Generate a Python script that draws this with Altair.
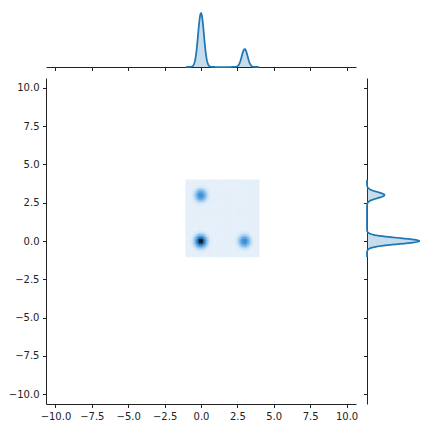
import numpy as np
import pandas as pd
import altair as alt

# ---- data ----
px = [0, 0, 0, 3]          # x of the observations
py = [0, 0, 3, 0]          # y of the observations
BW = 0.2                   # kernel bandwidth, marginals
BW2 = 0.23                 # kernel bandwidth, joint density
LO, HI = -1.05, 4.0        # KDE support
NCELL = 50
tick_vals = [-10, -7.5, -5, -2.5, 0, 2.5, 5, 7.5, 10]
DOM = [-10.65, 10.65]

points = pd.DataFrame({"x": px, "y": py})

# 2-D KDE on a grid, derived from the observations
edges = np.linspace(LO, HI, NCELL + 1)
centers = (edges[:-1] + edges[1:]) / 2
gx, gy = np.meshgrid(centers, centers)
dens = sum(np.exp(-((gx - a) ** 2 + (gy - b) ** 2) / (2 * BW2 ** 2)) for a, b in zip(px, py))
level = dens / dens.max()
ix, iy = np.meshgrid(range(NCELL), range(NCELL))
grid = pd.DataFrame({
    "x0": edges[ix.ravel()], "x1": edges[ix.ravel() + 1],
    "y0": edges[iy.ravel()], "y1": edges[iy.ravel() + 1],
    "level": level.ravel(),
})

BLUE = "#1f77b4"
AX = "#222222"
xs = alt.Scale(domain=DOM, nice=False, zero=False)
ys = alt.Scale(domain=DOM, nice=False, zero=False)
cscale = alt.Scale(
    domain=[0, 0.05, 0.15, 0.3, 0.5, 0.7, 0.85, 1.0],
    range=["#e6f1fb", "#c4e0f6", "#8cc3ee", "#5aa6e2", "#3585d0",
           "#1d5f9a", "#0b2740", "#000000"],
)

def axis(labels=True):
    kw = dict(values=tick_vals, tickSize=3.5, grid=False, title=None,
              domainColor=AX, tickColor=AX, domainWidth=1, tickWidth=1)
    if labels:
        kw.update(format=".1f", labelPadding=3.5, labelColor=AX,
                  labelFont="DejaVu Sans", labelFontSize=10)
    else:
        kw.update(labels=False)
    return alt.Axis(**kw)

main = alt.Chart(grid).mark_rect(strokeWidth=0.4).encode(
    x=alt.X("x0:Q", scale=xs, axis=axis()), x2="x1:Q",
    y=alt.Y("y0:Q", scale=ys, axis=axis()), y2="y1:Q",
    color=alt.Color("level:Q", scale=cscale, legend=None),
    stroke=alt.Stroke("level:Q", scale=cscale, legend=None),
).properties(width=310, height=326)

top_base = alt.Chart(points).transform_density(
    "x", as_=["value", "density"], bandwidth=BW, extent=[LO, HI], steps=200
).encode(
    x=alt.X("value:Q", scale=xs, axis=axis(False)),
    y=alt.Y("density:Q", scale=alt.Scale(domain=[0, 1.64], nice=False), axis=None),
)
top = (top_base.mark_area(color=BLUE, opacity=0.25)
       + top_base.mark_line(color=BLUE, strokeWidth=1.75)).properties(width=310, height=59)

right_base = alt.Chart(points).transform_density(
    "y", as_=["value", "density"], bandwidth=BW, extent=[LO, HI], steps=200
).encode(
    y=alt.Y("value:Q", scale=ys, axis=axis(False)),
    x=alt.X("density:Q", scale=alt.Scale(domain=[0, 1.63], nice=False), axis=None),
)
right = (right_base.mark_area(color=BLUE, opacity=0.25, orient="horizontal")
         + right_base.mark_line(color=BLUE, strokeWidth=1.75, orient="horizontal"
                                ).encode(order=alt.Order("value:Q"))
         ).properties(width=57, height=326)

blank = alt.Chart(points).mark_point(opacity=0, size=0).encode(
    x=alt.value(20), y=alt.value(30)
).properties(width=57, height=59)

chart = alt.concat(
    top, blank, main, right, columns=2, spacing=11, bounds="flush", align="each"
).properties(
    padding={"left": 0, "top": 0, "right": 0, "bottom": 0}, background="white"
).configure_view(strokeWidth=0)

chart.save("out.html", embed_options={"renderer": "svg", "actions": False})
